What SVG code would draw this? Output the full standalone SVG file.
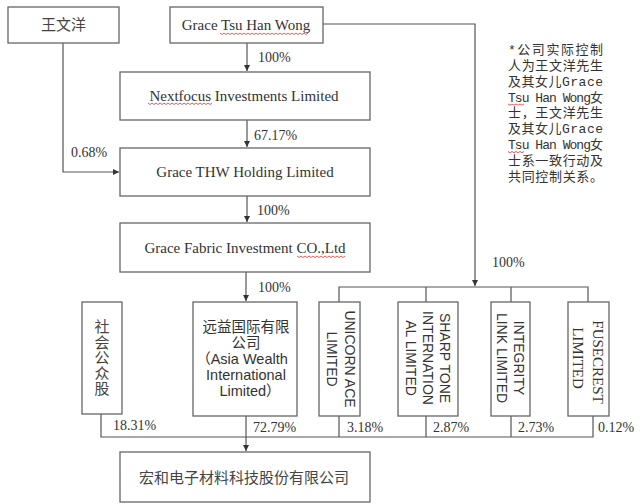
<svg xmlns="http://www.w3.org/2000/svg" width="640" height="504" viewBox="0 0 640 504">
<defs>
<marker id="arr" markerUnits="userSpaceOnUse" markerWidth="7" markerHeight="7" refX="6" refY="3" orient="auto">
<path d="M0,0 L6,3 L0,6 z" fill="#333"/>
</marker>
</defs>
<style>
.box{fill:#fff;stroke:#666;stroke-width:1.3}
.ln{fill:none;stroke:#555;stroke-width:1.2}
.ser{font-family:"Liberation Serif","Noto Sans CJK SC",serif;fill:#333}
.san{font-family:"Liberation Sans","Noto Sans CJK SC",sans-serif;fill:#333}
.cjk{font-family:"Noto Sans CJK SC",sans-serif;fill:#444}
.note{font-family:"Liberation Mono","Noto Sans CJK SC",monospace;font-size:13px;fill:#333}
.pct{font-family:"Liberation Serif",serif;font-size:14px;fill:#333}
.spell{fill:none;stroke:#d33;stroke-width:0.8}
</style>
<rect width="640" height="504" fill="#fff"/>

<g id="connectors">
<path class="ln" d="M63,43 V172 H119" marker-end="url(#arr)"/>
<path class="ln" d="M247,43 V71" marker-end="url(#arr)"/>
<path class="ln" d="M247,120 V147" marker-end="url(#arr)"/>
<path class="ln" d="M247,196 V222" marker-end="url(#arr)"/>
<path class="ln" d="M246,272 V301" marker-end="url(#arr)"/>
<path class="ln" d="M323,24 H475 V286" marker-end="url(#arr)"/>
<path class="ln" d="M339,302 V287 H588 V302 M426,287 V302 M511,287 V302"/>
<path class="ln" d="M101,414 V437 H593 V416 M339,416 V437 M426,416 V437 M511,416 V437"/>
<path class="ln" d="M246,416 V451" marker-end="url(#arr)"/>
<text class="pct" x="258" y="62">100%</text>
<text class="pct" x="254" y="140">67.17%</text>
<text class="pct" x="71" y="157">0.68%</text>
<text class="pct" x="257" y="215">100%</text>
<text class="pct" x="258" y="292">100%</text>
<text class="pct" x="492" y="267">100%</text>
<text class="pct" x="113" y="430">18.31%</text>
<text class="pct" x="253" y="432">72.79%</text>
<text class="pct" x="347" y="432">3.18%</text>
<text class="pct" x="433" y="432">2.87%</text>
<text class="pct" x="518" y="432">2.73%</text>
<text class="pct" x="598" y="432">0.12%</text>
</g>

<g id="n-wangwenyang">
<rect class="box" x="8" y="7" width="111" height="36"/>
<text class="cjk" x="63.5" y="30" font-size="15" text-anchor="middle">王文洋</text>
</g>

<g id="n-grace">
<rect class="box" x="170" y="7" width="153" height="36"/>
<text class="ser" x="246" y="30" font-size="15" text-anchor="middle">Grace Tsu Han Wong</text>
<path class="spell" d="M220,33 l2,1.5 l2,-1.5 l2,1.5 l2,-1.5 l2,1.5 l2,-1.5 l2,1.5 l2,-1.5 l2,1.5 l2,-1.5 l2,1.5 l2,-1.5 l2,1.5 l2,-1.5 l2,1.5 l2,-1.5 l2,1.5 l2,-1.5 l2,1.5 l2,-1.5 l2,1.5 l2,-1.5 l2,1.5 l2,-1.5 l2,1.5 l2,-1.5 l2,1.5 l2,-1.5 l2,1.5 l2,-1.5 l2,1.5 l2,-1.5 l2,1.5 l2,-1.5 l2,1.5 l2,-1.5 l2,1.5 l2,-1.5 l2,1.5 l2,-1.5 l2,1.5 l2,-1.5 l2,1.5 l2,-1.5"/>
</g>

<g id="n-nextfocus">
<rect class="box" x="120" y="72" width="250" height="48"/>
<text class="ser" x="244" y="101" font-size="15" text-anchor="middle">Nextfocus Investments  Limited</text>
<path class="spell" d="M148,103 l2,1.5 l2,-1.5 l2,1.5 l2,-1.5 l2,1.5 l2,-1.5 l2,1.5 l2,-1.5 l2,1.5 l2,-1.5 l2,1.5 l2,-1.5 l2,1.5 l2,-1.5 l2,1.5 l2,-1.5 l2,1.5 l2,-1.5 l2,1.5 l2,-1.5 l2,1.5 l2,-1.5 l2,1.5 l2,-1.5 l2,1.5 l2,-1.5 l2,1.5 l2,-1.5 l2,1.5 l2,-1.5 l2,1.5 l2,-1.5"/>
</g>

<g id="n-gracethw">
<rect class="box" x="120" y="148" width="250" height="48"/>
<text class="ser" x="245" y="177" font-size="15" text-anchor="middle">Grace THW Holding Limited</text>
</g>

<g id="n-gracefabric">
<rect class="box" x="120" y="223" width="250" height="49"/>
<text class="ser" x="245" y="253" font-size="15" text-anchor="middle">Grace Fabric Investment CO.,Ltd</text>
<path class="spell" d="M297,256 l2,1.5 l2,-1.5 l2,1.5 l2,-1.5 l2,1.5 l2,-1.5 l2,1.5 l2,-1.5 l2,1.5 l2,-1.5 l2,1.5 l2,-1.5 l2,1.5 l2,-1.5 l2,1.5 l2,-1.5 l2,1.5 l2,-1.5 l2,1.5 l2,-1.5 l2,1.5 l2,-1.5 l2,1.5 l2,-1.5"/>
</g>

<g id="n-note">
<text class="note" x="508" y="54" textLength="95" lengthAdjust="spacing">*公司实际控制</text>
<text class="note" x="508" y="70" textLength="95" lengthAdjust="spacing">人为王文洋先生</text>
<text class="note" x="508" y="85.5" textLength="95" lengthAdjust="spacing">及其女儿Grace</text>
<text class="note" x="508" y="101.5" textLength="95" lengthAdjust="spacing">Tsu Han Wong女</text>
<text class="note" x="508" y="117" textLength="95" lengthAdjust="spacing">士，王文洋先生</text>
<text class="note" x="508" y="133" textLength="95" lengthAdjust="spacing">及其女儿Grace</text>
<text class="note" x="508" y="149" textLength="95" lengthAdjust="spacing">Tsu Han Wong女</text>
<text class="note" x="508" y="164.5" textLength="95" lengthAdjust="spacing">士系一致行动及</text>
<text class="note" x="508" y="180.5" textLength="95" lengthAdjust="spacing">共同控制关系。</text>
<path class="spell" d="M508,104 l2,1.2 l2,-1.2 l2,1.2 l2,-1.2 l2,1.2 l2,-1.2 l2,1.2 l2,-1.2 M508,151.5 l2,1.2 l2,-1.2 l2,1.2 l2,-1.2 l2,1.2 l2,-1.2 l2,1.2 l2,-1.2"/>
</g>

<g id="n-public">
<rect class="box" x="82" y="302" width="40" height="112"/>
<text class="cjk" x="102" y="358" font-size="15" text-anchor="middle" writing-mode="vertical-rl" style="writing-mode:vertical-rl;text-orientation:upright" letter-spacing="0.5">社会公众股</text>
</g>

<g id="n-asiawealth">
<rect class="box" x="193" y="302" width="104" height="114"/>
<text class="san" font-size="14.5" text-anchor="middle"><tspan x="246" y="332">远益国际有限</tspan><tspan x="246" y="348">公司</tspan><tspan x="242" y="364">（Asia Wealth</tspan><tspan x="246" y="380">International</tspan><tspan x="250" y="396">Limited）</tspan></text>
</g>

<g id="n-unicornace">
<rect class="box" x="319" y="302" width="41" height="114"/>
<g transform="translate(340,359) rotate(90)">
<text class="san" font-size="14" text-anchor="middle" dominant-baseline="central"><tspan x="0" y="-10">UNICORN ACE</tspan><tspan x="0" y="8.5">LIMITED</tspan></text>
</g>
</g>

<g id="n-sharptone">
<rect class="box" x="398" y="302" width="60" height="114"/>
<g transform="translate(428,358) rotate(90)">
<text class="san" font-size="14" text-anchor="middle" dominant-baseline="central"><tspan x="0" y="-17">SHARP TONE</tspan><tspan x="0" y="0">INTERNATION</tspan><tspan x="0" y="17">AL LIMITED</tspan></text>
</g>
</g>

<g id="n-integrity">
<rect class="box" x="491" y="302" width="39" height="114"/>
<g transform="translate(510,358) rotate(90)">
<text class="san" font-size="14" text-anchor="middle" dominant-baseline="central"><tspan x="0" y="-8.5">INTEGRITY</tspan><tspan x="0" y="8.5">LINK LIMITED</tspan></text>
</g>
</g>

<g id="n-fusecrest">
<rect class="box" x="568" y="302" width="41" height="114"/>
<g transform="translate(588,360) rotate(90)">
<text class="ser" font-size="15" text-anchor="middle" dominant-baseline="central"><tspan x="2" y="-10">FUSECREST</tspan><tspan x="-2" y="10">LIMITED</tspan></text>
</g>
</g>

<g id="n-honghe">
<rect class="box" x="120" y="452" width="250" height="50"/>
<text class="cjk" x="244" y="483" font-size="15" text-anchor="middle">宏和电子材料科技股份有限公司</text>
</g>
</svg>
